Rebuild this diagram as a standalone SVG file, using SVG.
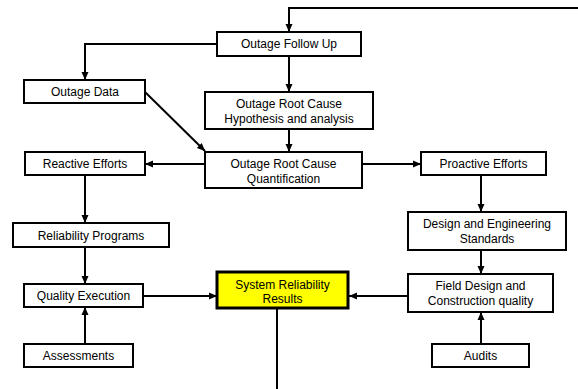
<svg xmlns="http://www.w3.org/2000/svg" width="578" height="389" viewBox="0 0 578 389">
<style>
.box{fill:#fff;stroke:#000;stroke-width:2}
.hl{fill:#ffff00;stroke:#000;stroke-width:3}
.t{font-family:"Liberation Sans",Arial,sans-serif;font-size:12px;fill:#000;text-anchor:middle}
.c{fill:none;stroke:#000;stroke-width:2}
</style>
<defs>
<marker id="ah" markerWidth="10" markerHeight="10" refX="8" refY="5" orient="auto" markerUnits="userSpaceOnUse" viewBox="0 0 10 10">
<path d="M0,1.5 L8,5 L0,8.5 Z" fill="#000"/>
</marker>
</defs>
<rect width="578" height="389" fill="#fff"/>
<g id="connectors">
<polyline class="c" points="578,8 289,8 289,32" marker-end="url(#ah)"/>
<polyline class="c" points="217,44 85,44 85,80" marker-end="url(#ah)"/>
<line class="c" x1="289" y1="56" x2="289" y2="92" marker-end="url(#ah)"/>
<line class="c" x1="289" y1="129" x2="289" y2="152" marker-end="url(#ah)"/>
<line class="c" x1="145" y1="92" x2="205" y2="151" marker-end="url(#ah)"/>
<line class="c" x1="205" y1="164" x2="145" y2="164" marker-end="url(#ah)"/>
<line class="c" x1="362" y1="164" x2="421" y2="164" marker-end="url(#ah)"/>
<line class="c" x1="85" y1="175" x2="85" y2="223" marker-end="url(#ah)"/>
<line class="c" x1="85" y1="247" x2="85" y2="284" marker-end="url(#ah)"/>
<line class="c" x1="85" y1="344" x2="85" y2="307" marker-end="url(#ah)"/>
<line class="c" x1="143" y1="296" x2="217" y2="296" marker-end="url(#ah)"/>
<line class="c" x1="481" y1="175" x2="481" y2="212" marker-end="url(#ah)"/>
<line class="c" x1="481" y1="250" x2="481" y2="274" marker-end="url(#ah)"/>
<line class="c" x1="408" y1="296" x2="349" y2="296" marker-end="url(#ah)"/>
<line class="c" x1="481" y1="344" x2="481" y2="312" marker-end="url(#ah)"/>
<line class="c" x1="277" y1="308" x2="277" y2="389"/>
</g>
<g id="follow-up"><rect class="box" x="217" y="32" width="144" height="24"/><text class="t" x="289" y="48">Outage Follow Up</text></g>
<g id="outage-data"><rect class="box" x="24" y="80" width="121" height="23"/><text class="t" x="85" y="96">Outage Data</text></g>
<g id="hypothesis"><rect class="box" x="205" y="92" width="168" height="37"/><text class="t" x="289" y="108">Outage Root Cause</text><text class="t" x="289" y="123">Hypothesis and analysis</text></g>
<g id="quantification"><rect class="box" x="205" y="152" width="157" height="36"/><text class="t" x="283.5" y="168">Outage Root Cause</text><text class="t" x="283.5" y="183">Quantification</text></g>
<g id="reactive"><rect class="box" x="25" y="152" width="120" height="23"/><text class="t" x="85" y="168">Reactive Efforts</text></g>
<g id="proactive"><rect class="box" x="421" y="152" width="125" height="23"/><text class="t" x="483.5" y="168">Proactive Efforts</text></g>
<g id="reliability-programs"><rect class="box" x="13" y="223" width="156" height="24"/><text class="t" x="91" y="240">Reliability Programs</text></g>
<g id="quality-execution"><rect class="box" x="24" y="284" width="119" height="23"/><text class="t" x="83.5" y="300">Quality Execution</text></g>
<g id="assessments"><rect class="box" x="24" y="344" width="109" height="23"/><text class="t" x="78.5" y="360">Assessments</text></g>
<g id="system-reliability"><rect class="hl" x="217" y="272" width="131" height="36"/><text class="t" x="282.5" y="289">System Reliability</text><text class="t" x="282.5" y="303">Results</text></g>
<g id="design-standards"><rect class="box" x="408" y="212" width="158" height="38"/><text class="t" x="487" y="228">Design and Engineering</text><text class="t" x="487" y="243">Standards</text></g>
<g id="field-design"><rect class="box" x="408" y="274" width="145" height="38"/><text class="t" x="480.5" y="290">Field Design and</text><text class="t" x="480.5" y="305">Construction quality</text></g>
<g id="audits"><rect class="box" x="432" y="344" width="97" height="23"/><text class="t" x="480.5" y="360">Audits</text></g>
</svg>
